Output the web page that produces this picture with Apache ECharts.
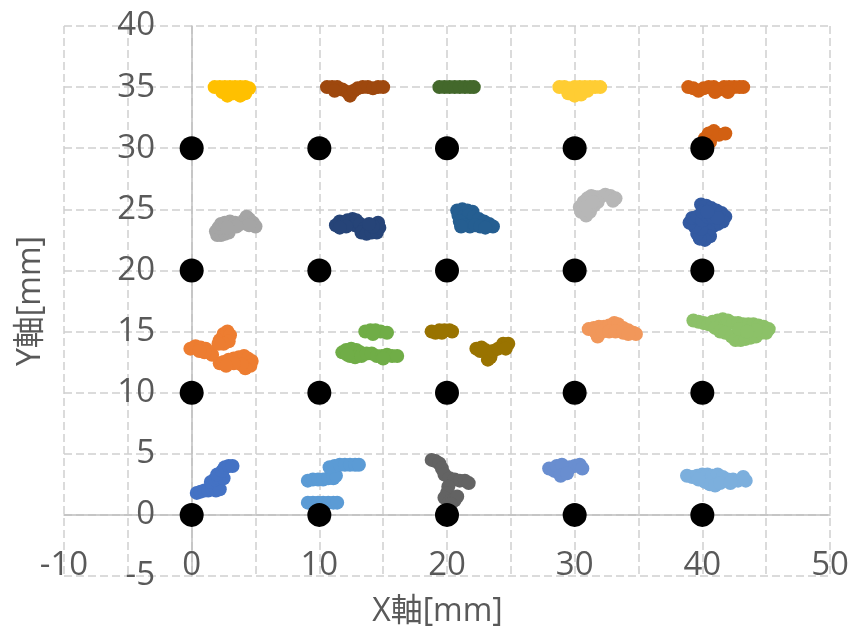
<!DOCTYPE html>
<html>
<head>
<meta charset="utf-8">
<style>
  html, body { margin: 0; padding: 0; background: #ffffff; }
  #chart { width: 853px; height: 632px; }
</style>
<script src="https://cdn.jsdelivr.net/npm/echarts@6/dist/echarts.min.js"></script>
</head>
<body>
<div id="chart"></div>
<script>
// Target grid positions (black reference points), in mm
const targetPoints = [
  [0, 0], [10, 0], [20, 0], [30, 0], [40, 0],
  [0, 10], [10, 10], [20, 10], [30, 10], [40, 10],
  [0, 20], [10, 20], [20, 20], [30, 20], [40, 20],
  [0, 30], [10, 30], [20, 30], [30, 30], [40, 30]
];

// Measured positions around each target, in mm
const meas_0_0 = [[0.4,1.8],[0.7,1.9],[1.0,2.0],[1.3,2.0],[1.6,2.1],[1.9,2.0],[2.2,2.1],[1.5,2.7],[1.8,2.9],[2.1,3.0],[2.5,3.0],[2.0,3.3],[2.4,3.6],[2.6,3.9],[2.9,4.0],[3.2,4.0]];
const meas_0_10 = [[-0.1,13.6],[0.3,13.8],[0.7,13.7],[1.1,13.6],[1.4,13.3],[1.6,13.1],[1.0,13.3],[0.6,13.4],[2.2,14.3],[2.5,14.8],[2.8,15.0],[3.0,14.7],[2.9,14.2],[2.5,14.0],[2.1,14.0],[2.2,12.4],[2.5,12.5],[2.9,12.7],[3.3,12.8],[3.7,12.9],[4.1,13.0],[4.4,12.8],[4.7,12.6],[4.6,12.2],[4.2,12.0],[3.9,12.3],[3.3,12.4],[2.7,12.2]];
const meas_0_20 = [[1.9,23.2],[2.0,22.9],[2.3,22.9],[2.6,23.0],[2.9,23.1],[2.1,23.5],[2.3,23.8],[2.6,23.9],[3.0,24.0],[3.4,23.9],[3.8,23.8],[4.1,24.1],[4.3,24.4],[4.5,24.2],[4.8,23.9],[5.0,23.6],[4.5,23.7],[3.5,23.6],[2.8,23.5]];
const meas_0_30 = [[1.8,35.0],[2.2,35.0],[2.6,35.0],[3.0,35.0],[3.4,35.0],[3.8,35.0],[4.2,35.0],[4.5,34.9],[2.4,34.6],[2.8,34.3],[3.3,34.5],[3.8,34.3],[4.2,34.5]];
const meas_10_0 = [[9.1,1.0],[9.5,1.0],[9.9,1.0],[10.3,1.0],[10.7,1.0],[11.1,1.0],[11.4,1.0],[9.1,2.8],[9.5,2.9],[9.9,2.9],[10.3,2.9],[10.7,3.0],[11.1,3.0],[11.3,3.2],[10.8,3.9],[11.2,4.0],[11.6,4.1],[12.0,4.1],[12.4,4.1],[12.8,4.1],[13.1,4.1]];
const meas_10_10 = [[13.6,15.0],[14.0,15.1],[14.4,15.1],[14.8,15.0],[15.3,14.9],[14.2,14.8],[11.8,13.3],[12.1,13.5],[12.5,13.6],[12.9,13.5],[13.2,13.3],[12.4,13.0],[12.8,12.9],[13.3,13.0],[13.7,13.2],[14.1,13.2],[14.5,13.0],[14.9,13.0],[15.3,13.1],[15.7,13.0],[16.1,13.0],[15.0,12.8],[12.2,13.1]];
const meas_10_20 = [[11.3,23.7],[11.6,24.0],[11.9,23.9],[12.2,24.1],[12.6,24.2],[12.9,24.1],[12.8,23.7],[13.2,23.8],[13.5,23.4],[13.3,23.1],[13.7,23.0],[14.1,23.1],[14.5,23.1],[14.7,23.5],[14.6,23.9],[14.2,23.6],[13.9,23.8],[12.1,23.6],[11.6,23.5]];
const meas_10_30 = [[10.6,35.0],[11.0,35.0],[11.4,35.0],[11.8,34.8],[12.2,34.6],[12.4,34.3],[12.7,34.7],[13.0,34.9],[13.4,35.0],[13.8,35.0],[14.2,34.9],[14.6,35.0],[15.0,35.0],[11.2,34.7]];
const meas_20_0 = [[18.8,4.5],[19.1,4.4],[19.4,4.2],[19.6,3.8],[19.8,3.3],[20.2,3.0],[20.6,2.9],[21.0,2.8],[21.4,2.8],[21.7,2.6],[20.1,2.3],[20.0,1.8],[19.8,1.4],[20.2,1.1],[20.6,1.2],[20.8,1.5],[20.3,0.9]];
const meas_20_10 = [[18.8,15.0],[19.1,14.9],[19.4,15.1],[19.8,15.1],[20.2,15.1],[20.4,15.0],[19.6,14.9],[22.3,13.6],[22.7,13.7],[23.0,13.5],[23.2,13.2],[23.4,12.9],[23.2,12.7],[23.6,13.4],[24.0,13.6],[24.4,14.0],[24.8,14.0],[24.6,13.6],[22.6,13.4]];
const meas_20_20 = [[20.8,24.9],[21.2,25.0],[21.6,24.9],[22.0,24.8],[20.9,24.5],[21.3,24.4],[21.7,24.5],[22.1,24.4],[22.5,24.2],[22.9,24.0],[23.3,23.8],[23.6,23.6],[21.0,24.0],[21.4,23.7],[21.8,23.6],[22.2,23.7],[22.6,23.6],[23.0,23.5],[21.1,23.6]];
const meas_20_30 = [[19.4,35.0],[19.8,35.0],[20.2,35.0],[20.6,35.0],[21.0,35.0],[21.4,35.0],[21.8,35.0],[22.1,35.0]];
const meas_30_0 = [[28.0,3.8],[28.4,3.6],[28.8,3.5],[29.2,3.7],[29.6,3.9],[30.0,4.0],[30.4,4.1],[30.6,3.8],[28.6,4.0],[29.0,4.1],[28.9,3.2],[29.4,3.4]];
const meas_30_10 = [[31.1,15.2],[31.5,15.3],[31.9,15.4],[32.3,15.4],[32.7,15.5],[33.1,15.7],[33.4,15.6],[33.8,15.3],[34.2,15.1],[34.6,14.9],[34.8,14.8],[31.8,14.6],[31.6,15.0],[32.2,15.0],[32.7,15.0],[33.2,15.0],[33.8,14.9],[34.2,14.8]];
const meas_30_20 = [[30.4,25.2],[30.7,25.6],[31.0,25.9],[31.3,26.1],[31.6,26.0],[32.0,26.0],[32.4,26.2],[32.8,26.1],[33.2,25.9],[33.0,25.7],[30.5,24.8],[30.9,24.5],[31.2,24.8],[31.5,25.3],[30.9,25.2],[31.8,25.6],[31.4,25.6]];
const meas_30_30 = [[28.8,35.0],[29.2,35.0],[29.6,34.9],[30.0,35.0],[30.4,35.0],[30.8,35.0],[31.2,35.0],[31.6,35.0],[32.0,35.0],[29.5,34.5],[30.0,34.3],[30.5,34.4],[31.0,34.7]];
const meas_40_0 = [[38.8,3.2],[39.2,3.1],[39.6,3.2],[40.0,3.3],[40.4,3.3],[40.8,3.2],[41.2,3.3],[41.6,3.1],[42.0,2.9],[42.4,2.9],[42.8,2.8],[43.2,3.1],[43.4,2.8],[40.2,2.7],[40.6,2.5],[41.0,2.4],[41.4,2.6],[42.2,2.6],[39.7,2.9]];
const meas_40_10 = [[39.3,15.9],[39.7,15.8],[40.1,15.7],[40.5,15.6],[40.8,15.8],[41.2,15.9],[41.6,16.0],[42.0,15.9],[42.4,15.7],[42.8,15.7],[43.2,15.6],[43.6,15.6],[44.0,15.6],[44.4,15.5],[44.8,15.4],[45.2,15.2],[41.0,15.3],[41.4,15.0],[41.8,14.9],[42.3,14.6],[42.6,14.3],[43.0,14.3],[43.4,14.4],[43.8,14.5],[44.2,14.6],[44.6,14.9],[45.0,14.9],[44.2,15.1],[42.9,15.2],[43.5,15.0]];
const meas_40_20 = [[39.9,25.4],[40.3,25.3],[40.7,25.1],[41.1,24.9],[41.5,24.7],[41.8,24.4],[41.6,24.0],[41.2,23.8],[40.8,23.6],[40.5,23.2],[40.6,22.8],[40.2,22.5],[39.8,22.6],[39.6,23.0],[39.9,23.4],[39.4,23.6],[39.0,23.9],[39.2,24.3],[39.6,24.4],[40.0,24.1],[40.4,24.4],[40.8,24.4],[41.2,24.3],[40.0,24.8],[40.4,24.8]];
const meas_40_30 = [[38.9,35.0],[39.3,34.9],[39.7,34.7],[40.1,34.9],[40.5,35.0],[40.9,35.0],[41.3,34.8],[41.7,35.0],[42.1,35.0],[42.5,35.0],[42.9,35.0],[43.2,35.0],[41.0,34.6],[42.0,34.6],[40.2,30.8],[40.5,31.2],[40.9,31.4],[41.3,31.1],[41.8,31.2],[40.6,30.5]];

// Series order and palette
const measuredSets = [
  meas_0_0, meas_0_10, meas_0_20, meas_0_30,
  meas_10_0, meas_10_10, meas_10_20, meas_10_30,
  meas_20_0, meas_20_10, meas_20_20, meas_20_30,
  meas_30_0, meas_30_10, meas_30_20, meas_30_30,
  meas_40_0, meas_40_10, meas_40_20, meas_40_30
];
const palette = [
  '#4472C4', '#ED7D31', '#A5A5A5', '#FFC000',
  '#5B9BD5', '#70AD47', '#264478', '#9E480E',
  '#636363', '#997300', '#255E91', '#43682B',
  '#698ED0', '#F1975A', '#B7B7B7', '#FFCD33',
  '#7CAFDD', '#8CC168', '#335AA1', '#D26012'
];

// Axis ranges
const xRange = { min: -10, max: 50, step: 5 };
const yRange = { min: -5, max: 40, step: 5 };

const textColor = '#595959';
const fontFamily = '"Open Sans", "Noto Sans CJK JP", sans-serif';
const gridLineStyle = { color: '#d0d0d0', width: 1.5, type: [8, 4] };
const axisLineStyle = { color: '#bfbfbf', width: 1.5 };

const chart = echarts.init(document.getElementById('chart'), null, { renderer: 'canvas' });

const series = measuredSets.map((pts, i) => ({
  type: 'scatter',
  name: 'S' + (i + 1),
  data: pts,
  symbol: 'circle',
  symbolSize: 14,
  itemStyle: { color: palette[i], opacity: 1 },
  z: 2,
  silent: true
}));
series.push({
  type: 'scatter',
  name: '目標',
  data: targetPoints,
  symbol: 'circle',
  symbolSize: 24,
  itemStyle: { color: '#000000', opacity: 1 },
  z: 5,
  silent: true
});

chart.setOption({
  animation: false,
  backgroundColor: '#ffffff',
  grid: { left: 64, top: 26, right: 23, bottom: 56, containLabel: false, outerBoundsMode: 'none' },
  xAxis: {
    type: 'value',
    min: xRange.min, max: xRange.max, interval: xRange.step,
    axisLine: { show: true, onZero: true, lineStyle: axisLineStyle },
    axisTick: { show: false },
    splitLine: { show: true, lineStyle: gridLineStyle },
    axisLabel: {
      margin: -27, color: textColor, fontSize: 33, fontFamily: fontFamily,
      showMinLabel: true, showMaxLabel: true,
      formatter: v => (v % 10 === 0 ? String(v) : '')
    },
    name: 'X軸[mm]',
    nameLocation: 'middle',
    nameGap: 20,
    nameTextStyle: { color: textColor, fontSize: 32, fontFamily: fontFamily, padding: [0, 19, 0, 0] }
  },
  yAxis: {
    type: 'value',
    min: yRange.min, max: yRange.max, interval: yRange.step,
    axisLine: { show: true, onZero: true, lineStyle: axisLineStyle },
    axisTick: { show: false },
    splitLine: { show: true, lineStyle: gridLineStyle },
    axisLabel: {
      margin: -91, color: textColor, fontSize: 33, fontFamily: fontFamily,
      showMinLabel: true, showMaxLabel: true
    },
    name: 'Y軸[mm]',
    nameLocation: 'middle',
    nameGap: 17,
    nameTextStyle: { color: textColor, fontSize: 32, fontFamily: fontFamily }
  },
  series: series
});
</script>
</body>
</html>
